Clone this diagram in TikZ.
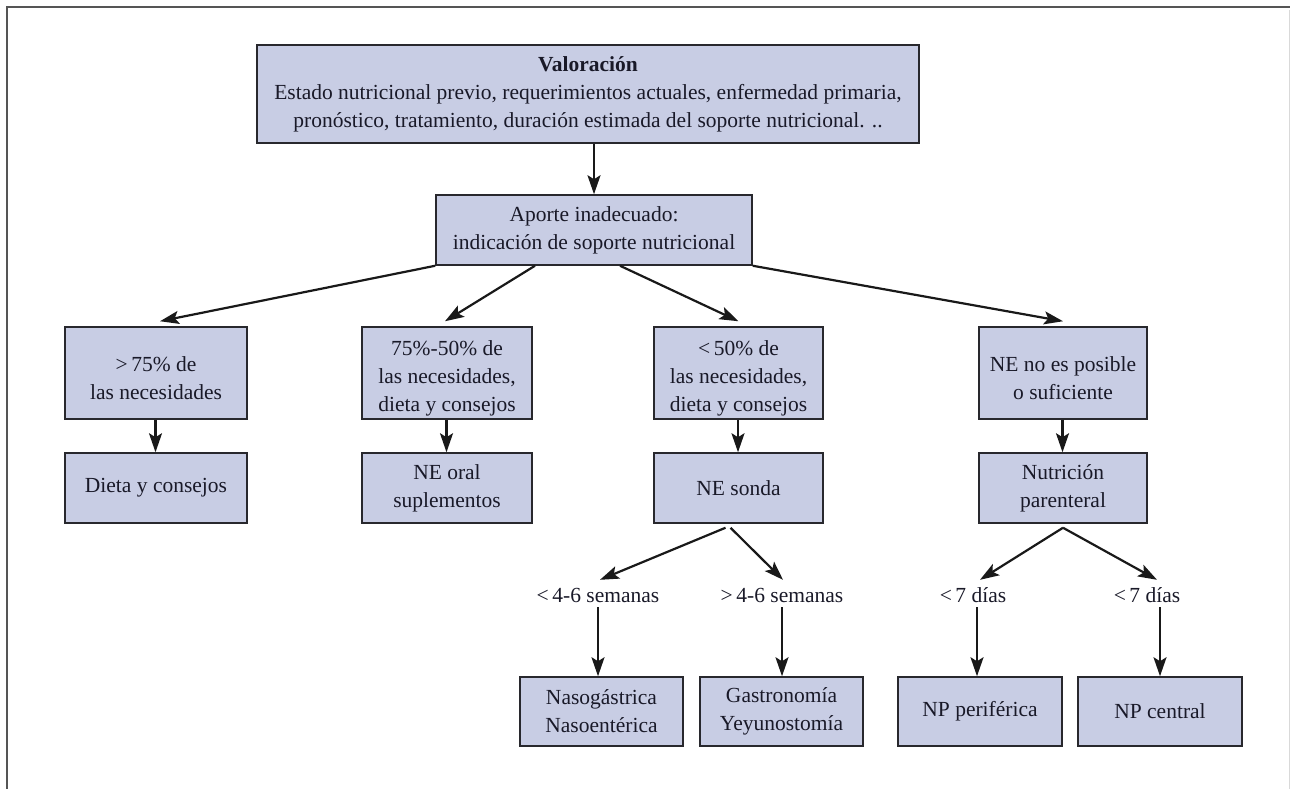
\documentclass[tikz,border=0pt]{standalone}
\usepackage{fontspec}
\setmainfont{Liberation Serif}
\usetikzlibrary{arrows.meta}
\definecolor{boxfill}{RGB}{200,205,228}
\definecolor{boxline}{RGB}{40,40,45}
\definecolor{txt}{RGB}{25,25,40}
\definecolor{framec}{RGB}{85,85,85}
\newcommand{\lowerstrut}{\rule{0pt}{25pt}}
\tikzset{
  flowbox/.style={draw=boxline,line width=1.5pt,fill=boxfill,align=center,inner sep=0pt,
    text=txt,font=\fontsize{21.5}{28}\selectfont},
  lbl/.style={inner sep=0pt,text=txt,font=\fontsize{21.5}{24}\selectfont,minimum height=20pt},
  arr/.style={draw=black!90,line width=2.2pt,-{Stealth[length=19pt,width=13pt,inset=4pt]}},
}
\begin{document}
\begin{tikzpicture}[x=1pt,y=-1pt]
\useasboundingbox (0,0) rectangle (1290,789);
% frame
\draw[framec,line width=2pt] (7,789) -- (7,7) -- (1290,7);
\draw[black!15,line width=1pt] (1289,10) -- (1289,789);
% nodes
\node[flowbox,minimum width=662pt,minimum height=98pt] (top) at (588,94)
  {\textbf{Valoración}\\Estado nutricional previo, requerimientos actuales, enfermedad primaria,\\pronóstico, tratamiento, duración estimada del soporte nutricional. ..};
\node[flowbox,minimum width=316pt,minimum height=70pt] (ap) at (594,230)
  {Aporte inadecuado:\\indicación de soporte nutricional};
\node[flowbox,minimum width=182pt,minimum height=92pt] (b1) at (156,373)
  {\lowerstrut>\,75\% de\\las necesidades};
\node[flowbox,minimum width=170pt,minimum height=92pt] (b2) at (447,373)
  {\lowerstrut 75\%-50\% de\\las necesidades,\\dieta y consejos};
\node[flowbox,minimum width=169pt,minimum height=92pt] (b3) at (738.5,373)
  {\lowerstrut<\,50\% de\\las necesidades,\\dieta y consejos};
\node[flowbox,minimum width=168pt,minimum height=92pt] (b4) at (1063,373)
  {\lowerstrut NE no es posible\\o suficiente};
\node[flowbox,minimum width=182pt,minimum height=70pt] (d1) at (156,488)
  {Dieta y consejos};
\node[flowbox,minimum width=170pt,minimum height=70pt] (d2) at (447,488)
  {NE oral\\suplementos};
\node[flowbox,minimum width=169pt,minimum height=70pt] (d3) at (738.5,488)
  {NE sonda};
\node[flowbox,minimum width=168pt,minimum height=70pt] (d4) at (1063,488)
  {Nutrición\\parenteral};
\node[lbl] (l1) at (598,595) {<\,4-6 semanas};
\node[lbl] (l2) at (782,595) {>\,4-6 semanas};
\node[lbl] (l3) at (973,595) {<\,7 días};
\node[lbl] (l4) at (1147,595) {<\,7 días};
\node[flowbox,minimum width=163pt,minimum height=69pt] (c1) at (601.5,711.5)
  {Nasogástrica\\Nasoentérica};
\node[flowbox,minimum width=163pt,minimum height=69pt] (c2) at (781.5,711.5)
  {Gastronomía\\Yeyunostomía};
\node[flowbox,minimum width=164pt,minimum height=69pt] (c3) at (980,711.5)
  {NP periférica};
\node[flowbox,minimum width=164pt,minimum height=69pt] (c4) at (1160,711.5)
  {NP central};
% connectors
\draw[arr] (top.south -| ap.south) -- (ap.north);
\draw[arr] (ap.south west) -- ([yshift=5pt,xshift=4pt]b1.north);
\draw[arr] ([xshift=-59pt]ap.south) -- ([yshift=5pt,xshift=-2pt]b2.north);
\draw[arr] ([xshift=26pt]ap.south) -- ([yshift=5pt]b3.north);
\draw[arr] (ap.south east) -- ([yshift=5pt]b4.north);
\draw[arr] ([xshift=-0.5pt]b1.south) -- ([xshift=-0.5pt]d1.north);
\draw[arr] ([xshift=-0.5pt]b2.south) -- ([xshift=-0.5pt]d2.north);
\draw[arr] ([xshift=-0.5pt]b3.south) -- ([xshift=-0.5pt]d3.north);
\draw[arr] ([xshift=-0.5pt]b4.south) -- ([xshift=-0.5pt]d4.north);
\draw[arr] ([xshift=-13pt,yshift=-4pt]d3.south) -- ([xshift=2pt,yshift=5pt]l1.north);
\draw[arr] ([xshift=-8pt,yshift=-4pt]d3.south) -- ([xshift=1pt,yshift=5pt]l2.north);
\draw[arr] ([yshift=-4pt]d4.south) -- ([xshift=7pt,yshift=5pt]l3.north);
\draw[arr] ([yshift=-4pt]d4.south) -- ([xshift=10pt,yshift=5pt]l4.north);
\draw[arr] ([yshift=-2pt]l1.south) -- (c1.north -| l1.south);
\draw[arr] ([yshift=-2pt]l2.south) -- (c2.north -| l2.south);
\draw[arr] ([xshift=4pt,yshift=-2pt]l3.south) -- ([xshift=-3pt]c3.north);
\draw[arr] ([xshift=13pt,yshift=-2pt]l4.south) -- (c4.north);
\end{tikzpicture}
\end{document}
